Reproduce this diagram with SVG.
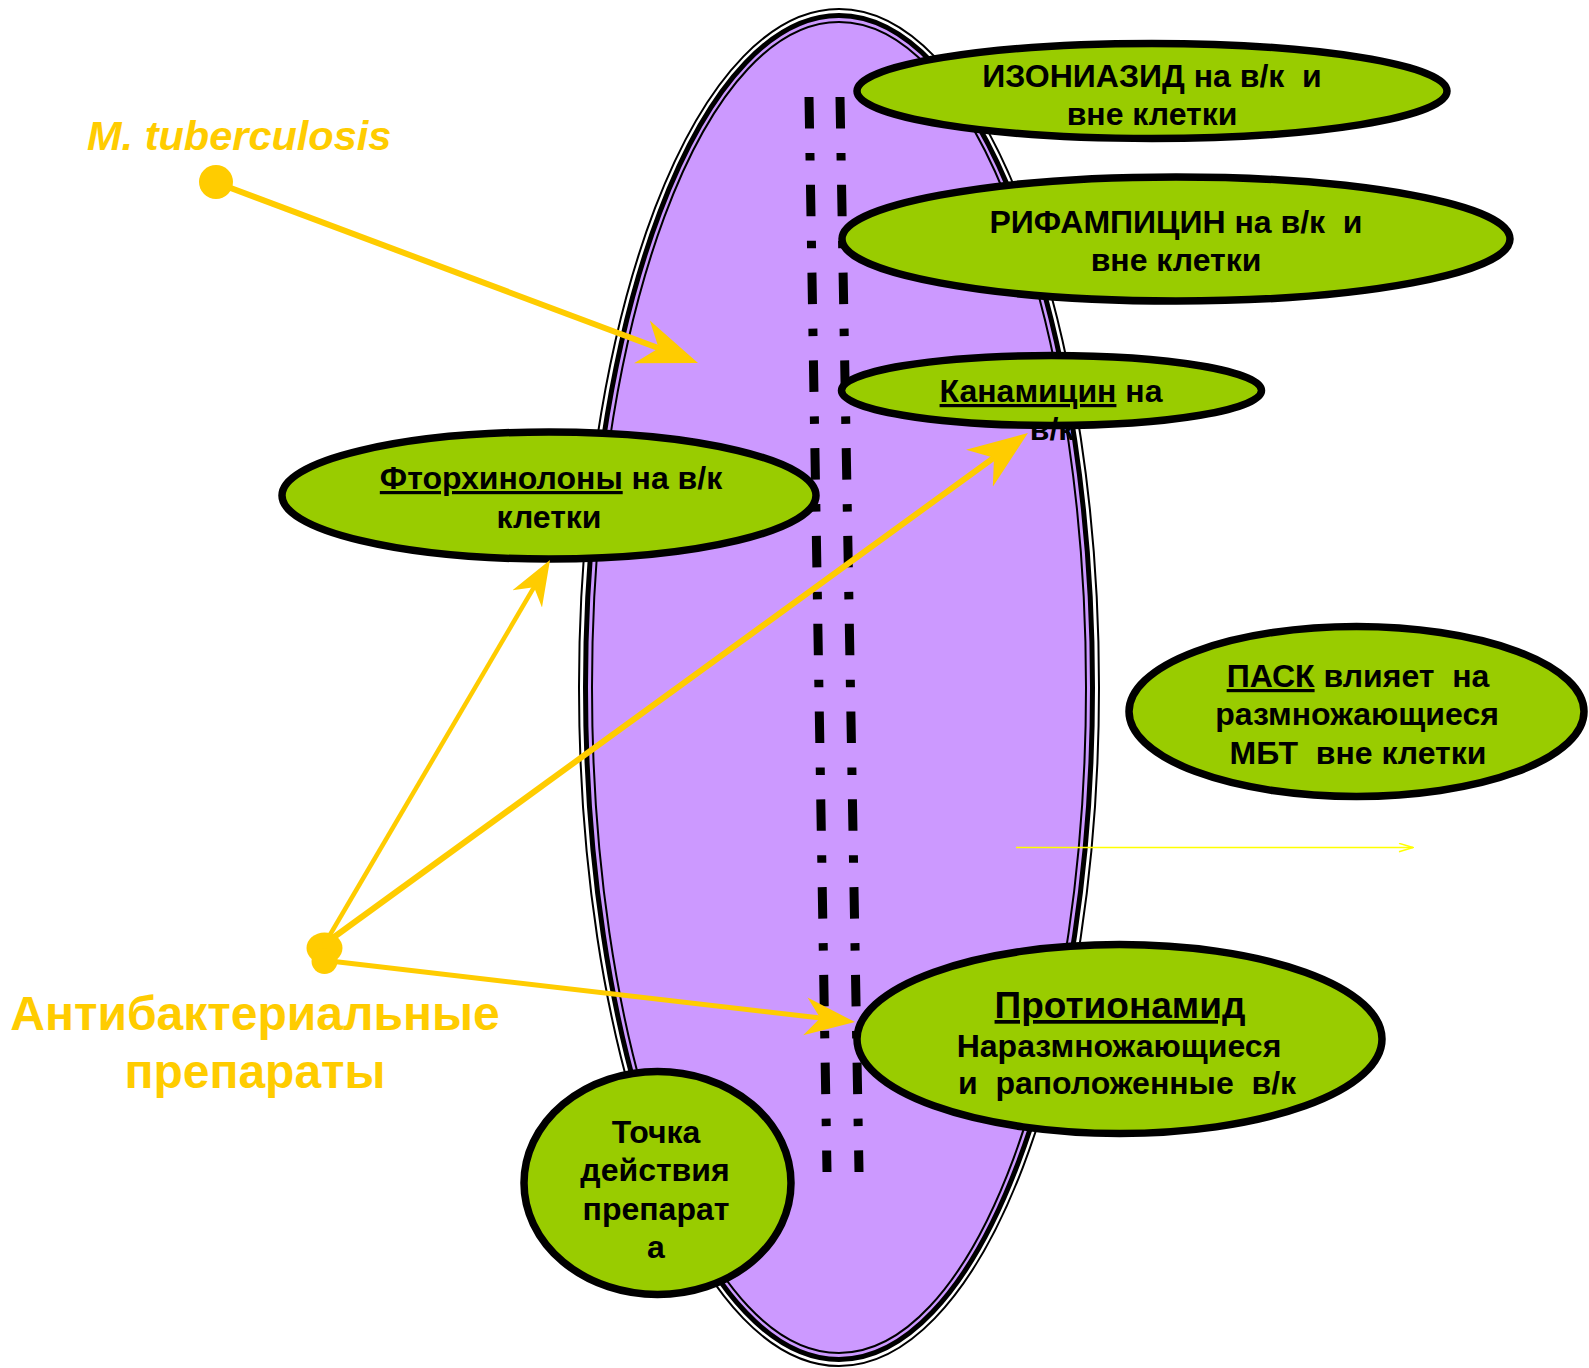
<svg xmlns="http://www.w3.org/2000/svg" width="1589" height="1368" viewBox="0 0 1589 1368">
<style>
.t{font-family:"Liberation Sans",Arial,sans-serif;font-weight:bold;font-size:32px;fill:#000;text-anchor:middle;white-space:pre}
.g{fill:#99CC00;stroke:#000;stroke-width:7.5}
.y{fill:#FFCC00;font-family:"Liberation Sans",Arial,sans-serif;font-weight:bold}
.dash{stroke:#000;stroke-width:9;stroke-dasharray:31.5 24.5 7.5 24.3;fill:none}
.arr{stroke:#FFCC00;fill:none;marker-end:url(#ah)}
.u{text-decoration:underline}
</style>
<defs>
<marker id="ah" viewBox="0 0 10 8" refX="3.5" refY="4" markerWidth="10" markerHeight="8" orient="auto" markerUnits="strokeWidth">
<path d="M0,0.2 L10,4 L0,7.8 L3,4 z" fill="#FFCC00"/>
</marker>
<marker id="oh" viewBox="0 0 16 10" refX="15" refY="5" markerWidth="16" markerHeight="10" orient="auto" markerUnits="userSpaceOnUse">
<path d="M1,0.8 L15,5 L1,9.2" fill="none" stroke="#FFFF00" stroke-width="1.5"/>
</marker>
</defs>
<rect width="1589" height="1368" fill="#fff"/>

<g id="cell">
<ellipse cx="839" cy="687.5" rx="260" ry="678.5" fill="#fff" stroke="#000" stroke-width="2"/>
<ellipse cx="839" cy="687.5" rx="253.5" ry="672" fill="#CC99FF" stroke="#000" stroke-width="5"/>
<ellipse cx="839" cy="687.5" rx="247" ry="665.5" fill="none" stroke="#000" stroke-width="2"/>
</g>

<g id="membrane">
<line class="dash" x1="809" y1="97" x2="827" y2="1172"/>
<line class="dash" x1="840" y1="97" x2="859" y2="1172"/>
</g>

<g id="isoniazid">
<ellipse class="g" cx="1152" cy="91" rx="295" ry="47.5"/>
<text class="t" x="1152" y="87">ИЗОНИАЗИД на в/к  и</text>
<text class="t" x="1152" y="125">вне клетки</text>
</g>

<g id="rifampicin">
<ellipse class="g" cx="1176" cy="239" rx="334" ry="62"/>
<text class="t" x="1176" y="233">РИФАМПИЦИН на в/к  и</text>
<text class="t" x="1176" y="271">вне клетки</text>
</g>

<g id="kanamycin">
<ellipse class="g" cx="1051.5" cy="390.5" rx="210" ry="35"/>
<text class="t" x="1051" y="402"><tspan class="u">Канамицин</tspan> на</text>
<text class="t" x="1052" y="440">в/к</text>
</g>

<g id="fluoroquinolones">
<ellipse class="g" cx="549" cy="495.5" rx="267" ry="63.5"/>
<text class="t" x="551" y="489"><tspan class="u">Фторхинолоны</tspan> на в/к</text>
<text class="t" x="549" y="528">клетки</text>
</g>

<g id="pask">
<ellipse class="g" cx="1356.5" cy="711.5" rx="227.5" ry="85"/>
<text class="t" x="1358" y="687"><tspan class="u">ПАСК</tspan> влияет  на</text>
<text class="t" x="1357" y="725">размножающиеся</text>
<text class="t" x="1358" y="764">МБТ  вне клетки</text>
</g>

<g id="protionamide">
<ellipse class="g" cx="1119.5" cy="1039" rx="262.5" ry="94.5"/>
<text class="t u" x="1120" y="1018" style="font-size:37px">Протионамид</text>
<text class="t" x="1119" y="1057">Наразмножающиеся</text>
<text class="t" x="1127" y="1094">и  раположенные  в/к</text>
</g>

<g id="point">
<ellipse class="g" cx="657.5" cy="1183" rx="133.5" ry="111.5"/>
<text class="t" x="656" y="1143">Точка</text>
<text class="t" x="655" y="1181">действия</text>
<text class="t" x="656" y="1220">препарат</text>
<text class="t" x="656" y="1258">а</text>
</g>

<g id="mtb">
<text class="y" x="87" y="150" style="font-size:41.5px;font-style:italic">M. tuberculosis</text>
<ellipse cx="216" cy="182" rx="17" ry="17" fill="#FFCC00"/>
</g>

<g id="antibacterial">
<text class="y" x="255" y="1030" text-anchor="middle" style="font-size:48px">Антибактериальные</text>
<text class="y" x="255" y="1088" text-anchor="middle" style="font-size:48px">препараты</text>
<ellipse cx="324.5" cy="948" rx="18" ry="15.5" fill="#FFCC00"/>
<ellipse cx="324.5" cy="961" rx="13" ry="13" fill="#FFCC00"/>
</g>

<g id="connectors">
<line class="arr" x1="220" y1="184" x2="661.5" y2="349.3" stroke-width="6"/>
<line class="arr" x1="324" y1="945" x2="535.2" y2="585.2" stroke-width="4.5"/>
<line class="arr" x1="330" y1="940" x2="996.4" y2="455.9" stroke-width="6"/>
<line class="arr" x1="330" y1="961" x2="822.7" y2="1018.3" stroke-width="5"/>
<line x1="1016" y1="847.5" x2="1413" y2="847.5" stroke="#FFFF00" stroke-width="1.5" marker-end="url(#oh)"/>
</g>
</svg>
